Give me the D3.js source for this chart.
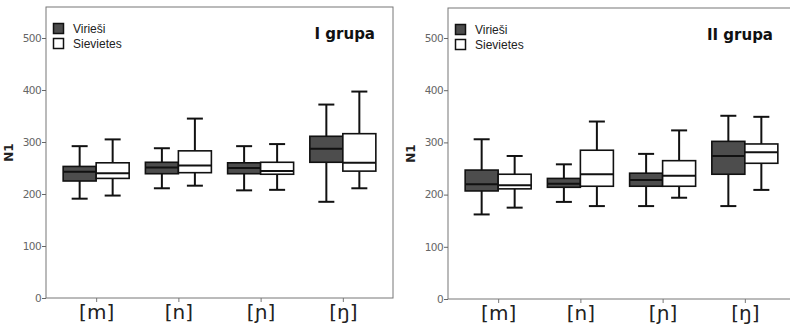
<!DOCTYPE html>
<html><head><meta charset="utf-8">
<script src="https://cdn.jsdelivr.net/npm/d3@7"></script>
<style>body{margin:0;background:#fff}svg{display:block}</style>
</head><body>
<script>
const categories = ['[m]','[n]','[ɲ]','[ŋ]'];
const series = ['Virieši','Sievietes'];
const yTicks = [0,100,200,300,400,500];
// [low whisker, Q1, median, Q3, high whisker]
const groupI_viriesi   = [[191,225,243,253,292],[211,239,251,261,288],[207,239,250,260,292],[185,261,287,311,372]];
const groupI_sievietes = [[197,230,240,260,305],[216,241,255,283,345],[208,238,244,261,296],[211,244,260,316,397]];
const groupII_viriesi   = [[162,207,220,247,306],[186,214,221,231,258],[178,216,228,241,278],[178,239,274,302,351]];
const groupII_sievietes = [[175,211,218,239,274],[178,216,239,285,340],[194,216,236,265,323],[209,260,281,297,349]];
const titles = ['I grupa','II grupa'];

const W=790,H=327;
const svg=d3.select('body').append('svg').attr('width',W).attr('height',H);
const fills={'Virieši':'#4d4d4d','Sievietes':'#ffffff'};

const panels=[
  {title:titles[0], data:{'Virieši':groupI_viriesi,'Sievietes':groupI_sievietes}, x0:46, x1:393, top:7, bottom:298, tx:375},
  {title:titles[1], data:{'Virieši':groupII_viriesi,'Sievietes':groupII_sievietes}, x0:448, x1:795, top:8, bottom:299, tx:773}
];

panels.forEach(p=>{
  const g=svg.append('g');
  const y=d3.scaleLinear().domain([0,500]).range([p.bottom,38]);
  const x=d3.scalePoint().domain(categories).range([p.x0,p.x1]).padding(0.61);
  const xs=d3.scaleBand().domain(series).range([-33,33]);
  g.append('rect').attr('x',p.x0).attr('y',p.top).attr('width',p.x1-p.x0).attr('height',p.bottom-p.top)
    .attr('fill','none').attr('stroke','#777').attr('stroke-width',1);
  const ya=g.append('g').attr('transform',`translate(${p.x0},0)`).attr('color','#666')
    .call(d3.axisLeft(y).tickValues(yTicks).tickSize(4).tickPadding(1));
  ya.select('.domain').remove();
  ya.selectAll('text').attr('font-family','DejaVu Sans, sans-serif').attr('font-size',10.5).attr('letter-spacing',-0.6);
  const xa=g.append('g').attr('transform',`translate(0,${p.bottom})`).attr('color','#222')
    .call(d3.axisBottom(x).tickSize(4).tickPadding(3));
  xa.select('.domain').remove();
  xa.selectAll('line').attr('stroke','#777');
  xa.selectAll('text').attr('font-family','DejaVu Sans, sans-serif').attr('font-size',20).attr('dy','0.72em');
  g.append('text').attr('transform',`translate(${p.x0-33},${(p.top+p.bottom)/2}) rotate(-90)`)
    .attr('text-anchor','middle').attr('font-family','DejaVu Sans, sans-serif').attr('font-weight','bold')
    .attr('font-size',12).attr('fill','#222').text('N1');
  series.forEach(s=>{
    p.data[s].forEach((d,i)=>{
      const bx=x(categories[i])+xs(s), bw=xs.bandwidth(), cx=bx+bw/2;
      const b=g.append('g').attr('stroke','#111').attr('stroke-width',2);
      b.append('line').attr('x1',cx).attr('x2',cx).attr('y1',y(d[0])).attr('y2',y(d[1]));
      b.append('line').attr('x1',cx).attr('x2',cx).attr('y1',y(d[3])).attr('y2',y(d[4]));
      b.append('line').attr('x1',cx-8).attr('x2',cx+8).attr('y1',y(d[0])).attr('y2',y(d[0]));
      b.append('line').attr('x1',cx-8).attr('x2',cx+8).attr('y1',y(d[4])).attr('y2',y(d[4]));
      b.append('rect').attr('x',bx).attr('y',y(d[3])).attr('width',bw).attr('height',y(d[1])-y(d[3]))
        .attr('fill',fills[s]).attr('stroke-width',1.6);
      b.append('line').attr('x1',bx).attr('x2',bx+bw).attr('y1',y(d[2])).attr('y2',y(d[2]));
    });
  });
  series.forEach((s,i)=>{
    g.append('rect').attr('x',p.x0+7.5).attr('y',p.top+16.5+i*15).attr('width',10).attr('height',10)
      .attr('fill',fills[s]).attr('stroke','#111').attr('stroke-width',1.5);
    g.append('text').attr('x',p.x0+27).attr('y',p.top+26+i*15).attr('font-family','Liberation Sans, Arial, sans-serif')
      .attr('font-size',12).attr('fill','#222').text(s);
  });
  g.append('text').attr('x',p.tx).attr('y',p.top+32).attr('text-anchor','end')
    .attr('font-family','DejaVu Sans, sans-serif').attr('font-weight','bold').attr('font-size',15).attr('fill','#111').text(p.title);
});
</script>
</body></html>
